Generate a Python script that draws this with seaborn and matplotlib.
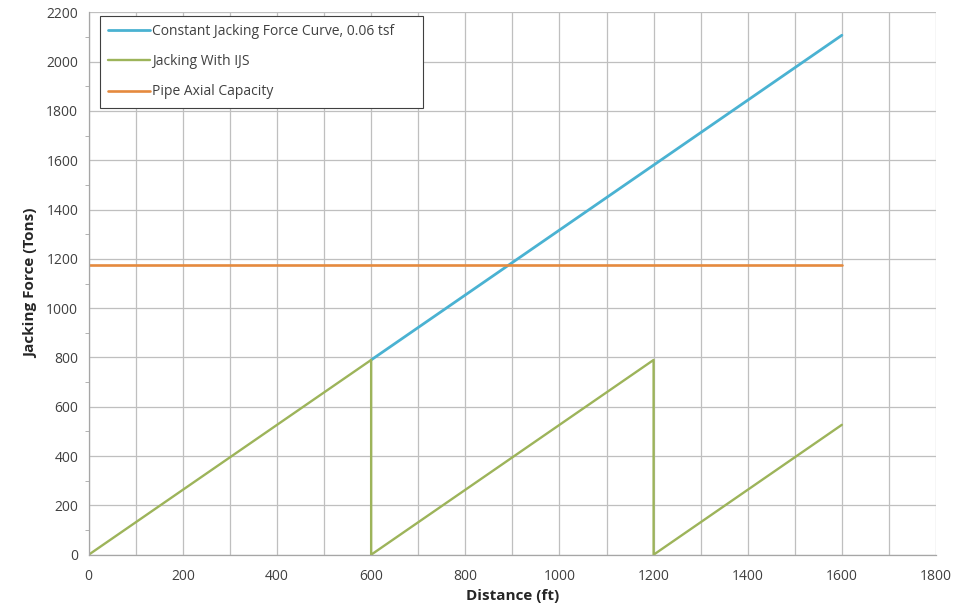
import matplotlib
matplotlib.use("Agg")
import matplotlib.pyplot as plt
import seaborn as sns
import pandas as pd
from matplotlib.ticker import MultipleLocator

# data
const_x = [600, 1600]
const_y = [790, 2107]

us_x = [0, 600, 600, 1200, 1200, 1600]
us_y = [0, 790, 0, 790, 0, 527]

cap_x = [0, 1600]
cap_y = [1175, 1175]

sns.set_style("white")
plt.rcParams['font.family'] = ['Open Sans', 'DejaVu Sans']

fig = plt.figure(figsize=(9.64, 6.15), dpi=100)
ax = fig.add_axes([0.092, 0.098, 0.879, 0.882])

const_df = pd.DataFrame({'x': const_x, 'y': const_y})
us_df = pd.DataFrame({'x': us_x, 'y': us_y})
cap_df = pd.DataFrame({'x': cap_x, 'y': cap_y})

sns.lineplot(data=const_df, x='x', y='y', ax=ax, color='#4AB2D2', linewidth=2.0,
             label='Constant Jacking Force Curve, 0.06 tsf', sort=False, estimator=None)
sns.lineplot(data=us_df, x='x', y='y', ax=ax, color='#9DB45A', linewidth=1.7,
             label='Jacking With IJS', sort=False, estimator=None)
sns.lineplot(data=cap_df, x='x', y='y', ax=ax, color='#E58A3E', linewidth=1.9,
             label='Pipe Axial Capacity', sort=False, estimator=None)

ax.set_xlim(0, 1800)
ax.set_ylim(0, 2200)
ax.xaxis.set_major_locator(MultipleLocator(200))
ax.xaxis.set_minor_locator(MultipleLocator(100))
ax.yaxis.set_major_locator(MultipleLocator(200))
ax.yaxis.set_minor_locator(MultipleLocator(100))

ax.grid(which='major', axis='both', color='#BFBFBF', linewidth=0.9)
ax.grid(which='minor', axis='x', color='#BFBFBF', linewidth=0.9)
ax.set_axisbelow(True)

for side in ['top', 'right']:
    ax.spines[side].set_visible(False)
for side in ['left', 'bottom']:
    ax.spines[side].set_color('#A6A6A6')
    ax.spines[side].set_linewidth(0.9)

ax.tick_params(axis='both', which='major', labelsize=10, labelcolor='#404040',
               color='#A6A6A6', length=4, direction='out')
ax.tick_params(axis='y', which='minor', color='#A6A6A6', length=3, direction='out', left=True)
ax.tick_params(axis='x', which='minor', length=0)
ax.tick_params(axis='x', pad=6)

ax.set_xlabel('Distance (ft)', fontsize=11, fontweight='bold', color='#262626', labelpad=4)
ax.set_ylabel('Jacking Force (Tons)', fontsize=11, fontweight='bold', color='#262626', labelpad=6)

leg = ax.legend(loc='upper left', bbox_to_anchor=(0.013, 0.0, 0.381, 0.994), mode='expand',
                fontsize=10, frameon=True, fancybox=False, edgecolor='#404040', framealpha=1,
                borderpad=0.6, labelspacing=1.1, handlelength=3.0, handletextpad=0.15,
                borderaxespad=0.0)
leg.get_frame().set_linewidth(0.8)
for t in leg.get_texts():
    t.set_color('#404040')

fig.savefig('out.png', dpi=100)
